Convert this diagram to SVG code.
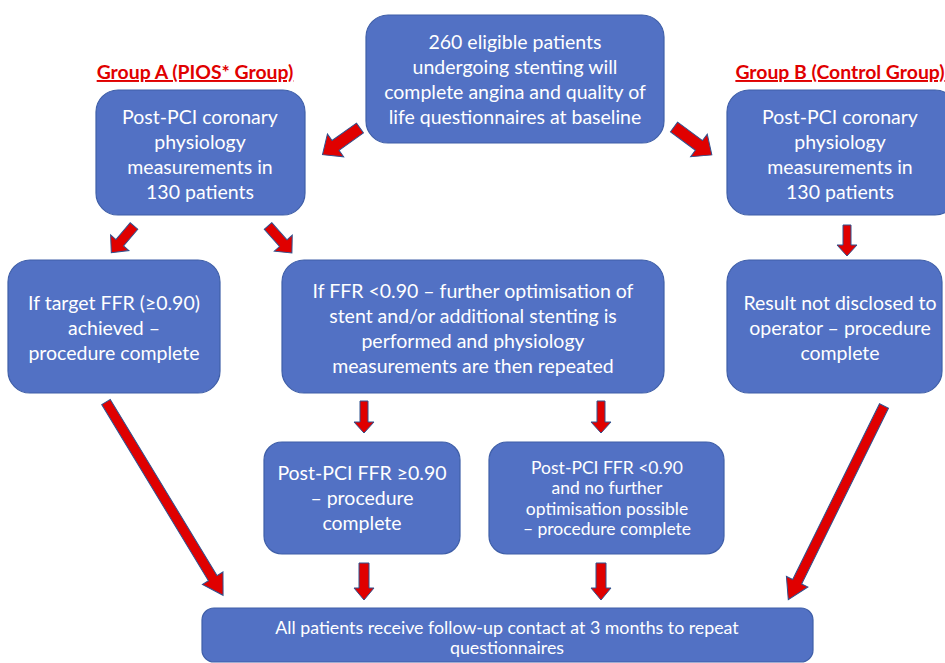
<svg xmlns="http://www.w3.org/2000/svg" width="945" height="663" viewBox="0 0 945 663">
<defs>
<style>
.box{fill:#5271C4;stroke:#3F5FA8;stroke-width:1.2}
.t{font-family:Lato,"Liberation Sans",sans-serif;font-size:19.5px;fill:#ffffff;text-anchor:middle}
.s{font-size:17.5px}
.f{font-size:17.8px}
.lbl{font-family:Lato,"Liberation Sans",sans-serif;font-size:19.4px;font-weight:bold;fill:#E00000;text-anchor:middle;text-decoration:underline}
.arr{fill:#E00000;stroke:#2F528F;stroke-width:1}
</style>
</defs>
<rect width="945" height="663" fill="#ffffff"/>
<g id="label-a"><text class="lbl" x="195" y="79">Group A (PIOS* Group)</text></g>
<g id="label-b"><text class="lbl" x="840" y="79">Group B (Control Group)</text></g>
<g id="n-top">
<rect class="box" x="366" y="15" width="298" height="128" rx="22"/>
<text class="t" x="515" y="49">260 eligible patients</text>
<text class="t" x="515" y="74">undergoing stenting will</text>
<text class="t" x="515" y="99">complete angina and quality of</text>
<text class="t" x="515" y="124">life questionnaires at baseline</text>
</g>
<g id="n-a">
<rect class="box" x="96" y="90" width="209" height="125" rx="22"/>
<text class="t" x="200" y="124">Post-PCI coronary</text>
<text class="t" x="200" y="149">physiology</text>
<text class="t" x="200" y="174">measurements in</text>
<text class="t" x="200" y="199">130 patients</text>
</g>
<g id="n-b">
<rect class="box" x="727" y="90" width="230" height="125" rx="22"/>
<text class="t" x="840" y="124">Post-PCI coronary</text>
<text class="t" x="840" y="149">physiology</text>
<text class="t" x="840" y="174">measurements in</text>
<text class="t" x="840" y="199">130 patients</text>
</g>
<g id="n-target">
<rect class="box" x="8" y="260" width="212" height="133" rx="22"/>
<text class="t" x="114" y="310">If target FFR (≥0.90)</text>
<text class="t" x="114" y="335">achieved –</text>
<text class="t" x="114" y="360">procedure complete</text>
</g>
<g id="n-further">
<rect class="box" x="282" y="260" width="382" height="133" rx="22"/>
<text class="t" x="473" y="298">If FFR &lt;0.90 – further optimisation of</text>
<text class="t" x="473" y="323">stent and/or additional stenting is</text>
<text class="t" x="473" y="348">performed and physiology</text>
<text class="t" x="473" y="373">measurements are then repeated</text>
</g>
<g id="n-result">
<rect class="box" x="727" y="260" width="215" height="133" rx="22"/>
<text class="t" x="840" y="310">Result not disclosed to</text>
<text class="t" x="840" y="335">operator – procedure</text>
<text class="t" x="840" y="360">complete</text>
</g>
<g id="n-ge">
<rect class="box" x="264" y="442" width="196" height="112" rx="18"/>
<text class="t" x="362" y="480">Post-PCI FFR ≥0.90</text>
<text class="t" x="362" y="505">– procedure</text>
<text class="t" x="362" y="530">complete</text>
</g>
<g id="n-lt">
<rect class="box" x="489" y="442" width="235" height="112" rx="18"/>
<text class="t s" x="607" y="474">Post-PCI FFR &lt;0.90</text>
<text class="t s" x="607" y="494">and no further</text>
<text class="t s" x="607" y="515">optimisation possible</text>
<text class="t s" x="607" y="535">– procedure complete</text>
</g>
<g id="n-follow">
<rect class="box" x="202" y="608" width="611" height="54" rx="12"/>
<text class="t f" x="507" y="634">All patients receive follow-up contact at 3 months to repeat</text>
<text class="t f" x="507" y="654">questionnaires</text>
</g>
<g id="connectors">
<polygon class="arr" transform="translate(360,128) rotate(144.6)" points="0,-6 30,-6 30,-14 46,0 30,14 30,6 0,6"/>
<polygon class="arr" transform="translate(674,127) rotate(36.4)" points="0,-6 31,-6 31,-14 47,0 31,14 31,6 0,6"/>
<polygon class="arr" transform="translate(134,226) rotate(130.4)" points="0,-5 22,-5 22,-12 35,0 22,12 22,5 0,5"/>
<polygon class="arr" transform="translate(268,226) rotate(48.4)" points="0,-5 23,-5 23,-12 36,0 23,12 23,5 0,5"/>
<polygon class="arr" transform="translate(847,225) rotate(90)" points="0,-4 20,-4 20,-10 31,0 20,10 20,4 0,4"/>
<polygon class="arr" transform="translate(364,401) rotate(90)" points="0,-4 21,-4 21,-10 32,0 21,10 21,4 0,4"/>
<polygon class="arr" transform="translate(601,401) rotate(90)" points="0,-4 21,-4 21,-10 32,0 21,10 21,4 0,4"/>
<polygon class="arr" transform="translate(364,563) rotate(90)" points="0,-5 25,-5 25,-10 37,0 25,10 25,5 0,5"/>
<polygon class="arr" transform="translate(601,563) rotate(90)" points="0,-5 25,-5 25,-10 37,0 25,10 25,5 0,5"/>
<polygon class="arr" transform="translate(106,402) rotate(58.8)" points="0,-5 206,-5 206,-12 226,0 206,12 206,5 0,5"/>
<polygon class="arr" transform="translate(884,406) rotate(116.3)" points="0,-5 196,-5 196,-12 216,0 196,12 196,5 0,5"/>
</g>
</svg>
